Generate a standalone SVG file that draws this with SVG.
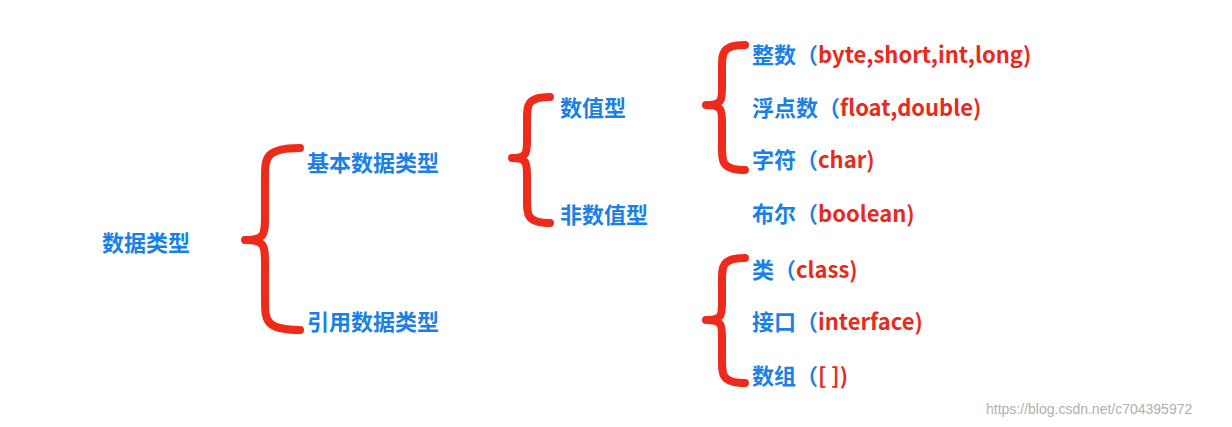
<svg xmlns="http://www.w3.org/2000/svg" width="1232" height="427" viewBox="0 0 1232 427">
<style>
.b{fill:#1a7fe6;font-family:"Noto Sans CJK SC",sans-serif;font-weight:bold;font-size:22px}
.r{fill:#e82a1c}
.br{fill:none;stroke:#ee2a1a;stroke-width:8;stroke-linecap:round;stroke-linejoin:round}
.w{fill:#b0b0b0;font-family:"Liberation Sans",sans-serif;font-size:14px}
</style>
<rect width="1232" height="427" fill="#fff"/>
<g id="connectors">
<path class="br" d="M300 148 C265 148 265 158 265 178 L265 215 C265 235 265 240 245 240 C265 240 265 245 265 265 L265 300 C265 320 265 330 300 330"/>
<path class="br" d="M550 97 C527 97 527 105 527 120 L527 140 C527 153 527 158 512 158 C527 158 527 163 527 176 L527 200 C527 215 527 223 550 223"/>
<path class="br" d="M745 45 C722 45 722 53 722 68 L722 88 C722 100 722 105 706 105 C722 105 722 110 722 122 L722 147 C722 162 722 170 745 170"/>
<path class="br" d="M745 258 C722 258 722 266 722 281 L722 303 C722 315 722 320 706 320 C722 320 722 325 722 337 L722 360 C722 375 722 383 745 383"/>
</g>
<g id="root"><text class="b" x="102" y="251">数据类型</text></g>
<g id="basic"><text class="b" x="307" y="171">基本数据类型</text></g>
<g id="ref"><text class="b" x="307" y="330">引用数据类型</text></g>
<g id="numeric"><text class="b" x="560" y="116">数值型</text></g>
<g id="nonnumeric"><text class="b" x="560" y="223">非数值型</text></g>
<g id="int"><text class="b" x="752" y="63">整数（<tspan class="r">byte,short,int,long)</tspan></text></g>
<g id="float"><text class="b" x="752" y="116">浮点数（<tspan class="r">float,double)</tspan></text></g>
<g id="char"><text class="b" x="752" y="168">字符（<tspan class="r">char)</tspan></text></g>
<g id="bool"><text class="b" x="752" y="222">布尔（<tspan class="r">boolean)</tspan></text></g>
<g id="class"><text class="b" x="752" y="278">类（<tspan class="r">class)</tspan></text></g>
<g id="iface"><text class="b" x="752" y="330">接口（<tspan class="r">interface)</tspan></text></g>
<g id="array"><text class="b" x="752" y="384">数组（<tspan class="r">[ ])</tspan></text></g>
<text class="w" x="986" y="414">https://blog.csdn.net/c704395972</text>
</svg>
